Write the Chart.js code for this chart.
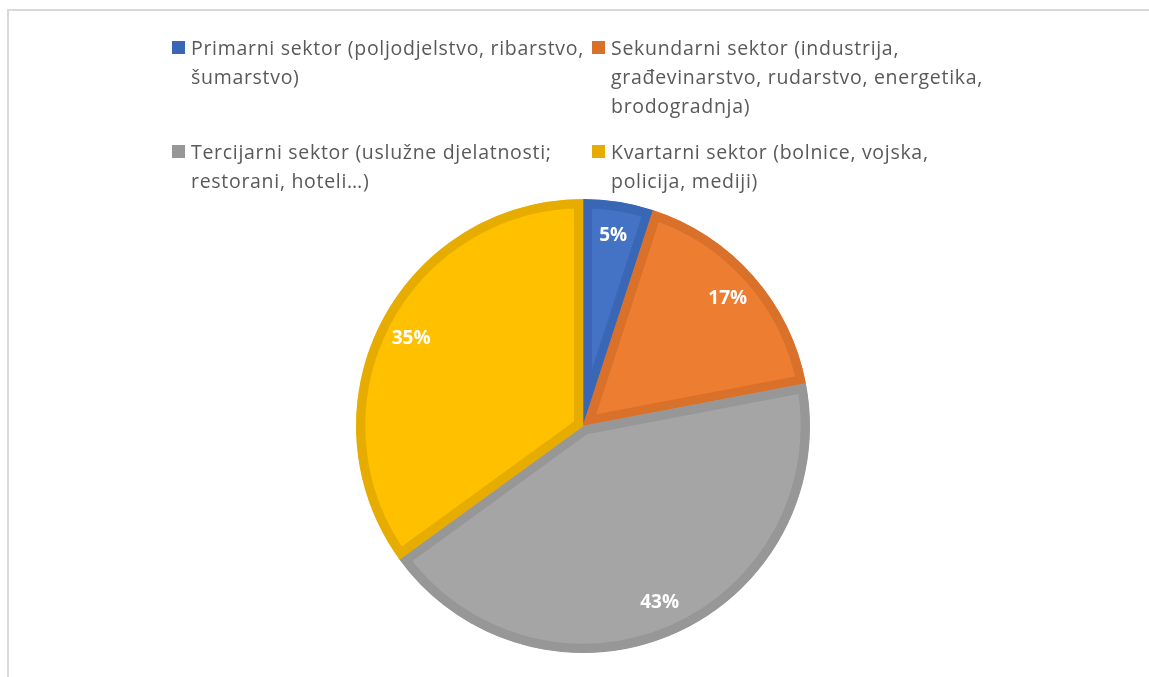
<!DOCTYPE html>
<html>
<head>
<meta charset="utf-8">
<script src="https://cdn.jsdelivr.net/npm/chart.js@4.4.1/dist/chart.umd.min.js"></script>
<style>
  html, body { margin:0; padding:0; background:#fff; overflow:hidden; }
  #frame { position:absolute; left:7px; top:9px; width:1200px; height:700px; border:2px solid #d9d9d9; box-sizing:border-box; }
  #wrap { position:absolute; left:0; top:0; width:1149px; height:677px; }
  #legend { position:absolute; left:0; top:0; font-family:"Open Sans", sans-serif; font-size:19.5px; letter-spacing:0.7px; color:#595959; }
  .item { position:absolute; line-height:29px; white-space:nowrap; }
  .box { position:absolute; left:-19px; top:8px; width:13px; height:13px; }
</style>
</head>
<body>
<div id="frame"></div>
<div id="wrap"><canvas id="pie" width="1149" height="677"></canvas></div>
<div id="legend"></div>
<script>
// chart data
const categories = [
  ["Primarni sektor (poljodjelstvo, ribarstvo,", "šumarstvo)"],
  ["Sekundarni sektor (industrija,", "građevinarstvo, rudarstvo, energetika,", "brodogradnja)"],
  ["Tercijarni sektor (uslužne djelatnosti;", "restorani, hoteli…)"],
  ["Kvartarni sektor (bolnice, vojska,", "policija, mediji)"]
];
const shares = [5, 17, 43, 35];
const pctLabels = ["5%", "17%", "43%", "35%"];
const fillColors = ["#4472C4", "#ED7D31", "#A5A5A5", "#FFC000"];
const edgeColors = ["#3A67B5", "#D9712B", "#979797", "#E6AD00"];

// legend laid out in two columns like the original
const legendSpots = [[191, 33], [611, 33], [191, 137], [611, 137]];
const legendEl = document.getElementById("legend");
categories.forEach((lines, i) => {
  const it = document.createElement("div");
  it.className = "item";
  it.style.left = legendSpots[i][0] + "px";
  it.style.top = legendSpots[i][1] + "px";
  const b = document.createElement("span");
  b.className = "box";
  b.style.background = edgeColors[i];
  it.appendChild(b);
  lines.forEach((t, k) => {
    if (k) it.appendChild(document.createElement("br"));
    it.appendChild(document.createTextNode(t));
  });
  legendEl.appendChild(it);
});

// white percentage labels inside each slice
const sliceLabels = {
  id: "sliceLabels",
  afterDatasetsDraw(chart) {
    const ctx = chart.ctx;
    const meta = chart.getDatasetMeta(0);
    ctx.save();
    ctx.fillStyle = "#ffffff";
    ctx.font = "bold 19px 'Open Sans', sans-serif";
    ctx.textAlign = "center";
    ctx.textBaseline = "middle";
    meta.data.forEach((arc, i) => {
      const p = arc.getProps(["x", "y", "startAngle", "endAngle", "outerRadius"], true);
      const mid = (p.startAngle + p.endAngle) / 2;
      const r = p.outerRadius * 0.85;
      ctx.fillText(pctLabels[i], p.x + Math.cos(mid) * r, p.y + Math.sin(mid) * r);
    });
    ctx.restore();
  }
};

new Chart(document.getElementById("pie").getContext("2d"), {
  type: "pie",
  data: {
    labels: categories,
    datasets: [{
      data: shares,
      backgroundColor: fillColors,
      borderColor: edgeColors,
      borderWidth: 9,
      borderAlign: "inner"
    }]
  },
  options: {
    responsive: false,
    animation: false,
    layout: { padding: { top: 199, bottom: 24, left: 17, right: 0 } },
    plugins: { legend: { display: false }, tooltip: { enabled: false } }
  },
  plugins: [sliceLabels]
});
</script>
</body>
</html>
